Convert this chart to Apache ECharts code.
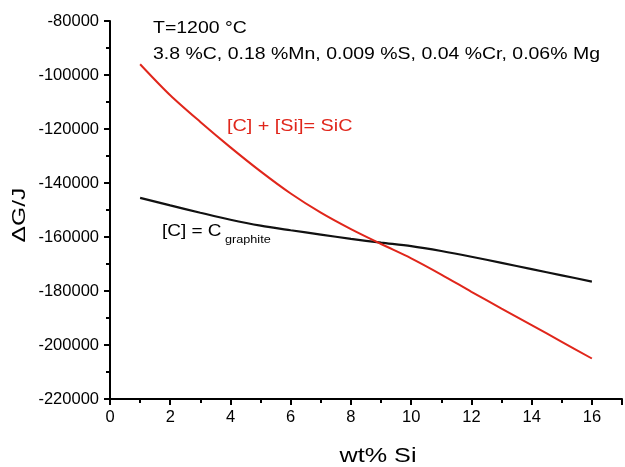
<!DOCTYPE html>
<html>
<head>
<meta charset="utf-8">
<script src="https://cdn.jsdelivr.net/npm/echarts@6/dist/echarts.min.js"></script>
<style>html,body{margin:0;padding:0;background:#fff}#c{width:625px;height:467px}</style>
</head>
<body>
<div id="c"></div>
<script>
var siWt = [1, 2, 3, 4, 5, 6, 7, 8, 9, 10, 11, 12, 13, 14, 15, 16];
var dGgraphite = [-145500, -148300, -151000, -153600, -155800, -157500, -159100, -160700, -162100, -163400, -165200, -167300, -169600, -171900, -174200, -176500];
var dGsic = [-96000, -107500, -117400, -126800, -135700, -143900, -151000, -157100, -162600, -167900, -173900, -180300, -186500, -192600, -198800, -205000];
var xTicksMax = 16;

var FONT = '"Liberation Sans", Arial, sans-serif';
var chart = echarts.init(document.getElementById('c'), null, {renderer: 'canvas'});
function pairs(xs, ys){ return xs.map(function(x,i){ return [x, ys[i]]; }); }

chart.setOption({
  animation: false,
  backgroundColor: '#fff',
  grid: {left: 110, right: 0, top: 21, bottom: 68, containLabel: false},
  xAxis: {
    type: 'value', min: 0, max: 17, interval: 2,
    axisLine: {show: true, lineStyle: {color: '#000', width: 2}},
    axisTick: {show: true, length: 6, lineStyle: {color: '#000', width: 2}},
    minorTick: {show: true, splitNumber: 2, length: 4, lineStyle: {color: '#000', width: 2}},
    splitLine: {show: false},
    axisLabel: {margin: 10, fontSize: 16.5, color: '#000', fontFamily: FONT,
      formatter: function(v){ return v > xTicksMax ? '' : String(v); }}
  },
  yAxis: {
    type: 'value', min: -220000, max: -80000, interval: 20000,
    axisLine: {show: true, lineStyle: {color: '#000', width: 2}},
    axisTick: {show: true, length: 6, lineStyle: {color: '#000', width: 2}},
    minorTick: {show: true, splitNumber: 2, length: 4, lineStyle: {color: '#000', width: 2}},
    splitLine: {show: false},
    axisLabel: {margin: 11, fontSize: 16.5, color: '#000', fontFamily: FONT,
      formatter: function(v){ return String(v); }}
  },
  series: [
    {type: 'line', data: pairs(siWt, dGgraphite), showSymbol: false, smooth: 0.3,
     lineStyle: {color: '#111', width: 2.2}},
    {type: 'line', data: pairs(siWt, dGsic), showSymbol: false, smooth: 0.3,
     lineStyle: {color: '#e0261b', width: 2}}
  ],
  graphic: [
    {type: 'text', x: 153, y: 37, scaleX: 1.18,
     style: {text: 'T=1200 °C', font: '16.5px ' + FONT, fill: '#000', textVerticalAlign: 'bottom'}},
    {type: 'text', x: 153, y: 63, scaleX: 1.18,
     style: {text: '3.8 %C, 0.18 %Mn, 0.009 %S, 0.04 %Cr, 0.06% Mg', font: '16.5px ' + FONT, fill: '#000', textVerticalAlign: 'bottom'}},
    {type: 'text', x: 227, y: 135, scaleX: 1.2,
     style: {text: '[C] + [Si]= SiC', font: '16.5px ' + FONT, fill: '#e0261b', textVerticalAlign: 'bottom'}},
    {type: 'text', x: 162, y: 240, scaleX: 1.15,
     style: {text: '[C] = C', font: '16.5px ' + FONT, fill: '#000', textVerticalAlign: 'bottom'}},
    {type: 'text', x: 225, y: 246, scaleX: 1.1,
     style: {text: 'graphite', font: '11.5px ' + FONT, fill: '#000', textVerticalAlign: 'bottom'}},
    {type: 'text', x: 378, y: 467, scaleX: 1.2,
     style: {text: 'wt% Si', font: '21px ' + FONT, fill: '#000', textAlign: 'center', textVerticalAlign: 'bottom'}},
    {type: 'text', x: 29, y: 215, rotation: Math.PI / 2, scaleX: 1.3,
     style: {text: 'ΔG/J', font: '19px ' + FONT, fill: '#000', textAlign: 'center', textVerticalAlign: 'bottom'}}
  ]
});
</script>
</body>
</html>
